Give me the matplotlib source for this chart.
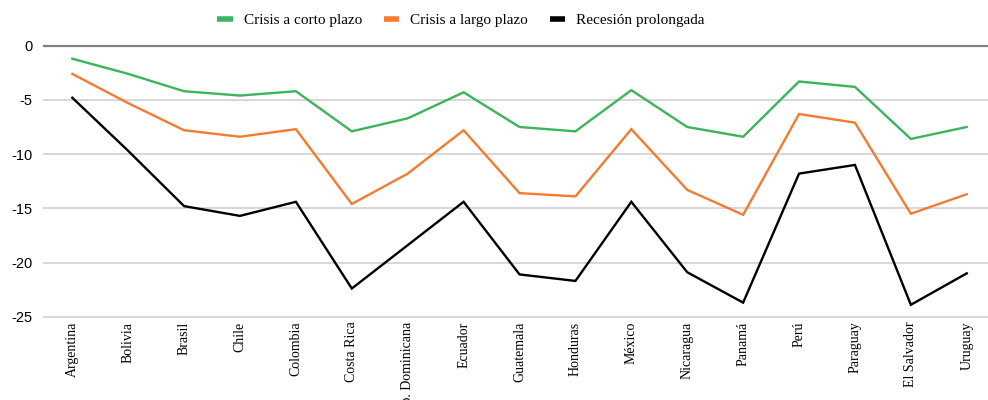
import matplotlib
matplotlib.use("Agg")
import matplotlib.pyplot as plt
from matplotlib.lines import Line2D

countries = ["Argentina", "Bolivia", "Brasil", "Chile", "Colombia", "Costa Rica",
             "Rep. Dominicana", "Ecuador", "Guatemala", "Honduras", "México",
             "Nicaragua", "Panamá", "Perú", "Paraguay", "El Salvador", "Uruguay"]
corto = [-1.2, -2.6, -4.2, -4.6, -4.2, -7.9, -6.7, -4.3, -7.5, -7.9, -4.1,
         -7.5, -8.4, -3.3, -3.8, -8.6, -7.5]
largo = [-2.6, -5.3, -7.8, -8.4, -7.7, -14.6, -11.8, -7.8, -13.6, -13.9, -7.7,
         -13.3, -15.6, -6.3, -7.1, -15.5, -13.7]
recesion = [-4.8, -9.7, -14.8, -15.7, -14.4, -22.4, -18.4, -14.4, -21.1, -21.7, -14.4,
            -20.9, -23.7, -11.8, -11.0, -23.9, -21.0]
yticks = [0, -5, -10, -15, -20, -25]

series = [("Crisis a corto plazo", corto, "#3BB55B"),
          ("Crisis a largo plazo", largo, "#F47B2F"),
          ("Recesión prolongada", recesion, "#000000")]

fig = plt.figure(figsize=(9.88, 4.0), dpi=100)
ax = fig.add_axes([43.5 / 988, 1 - 316.7 / 400, 1 - 43.5 / 988, (316.7 - 45.7) / 400])

x = list(range(len(countries)))
for name, vals, col in series:
    ax.plot(x, vals, color=col, lw=1.7, solid_joinstyle="miter", zorder=3)

ax.set_ylim(-25, 0)
ax.set_xlim(-0.515, 16.38)
ax.set_yticks(yticks)
ax.set_yticklabels([str(v) for v in yticks], fontfamily="Liberation Sans", fontsize=10.5)
for v in yticks:
    if v == 0:
        ax.axhline(v, color="#808080", lw=1.6, zorder=2, clip_on=False)
    else:
        ax.axhline(v, color="#D4D4D4", lw=1.3, zorder=1, clip_on=False)

ax.set_xticks(x)
ax.set_xticklabels(countries, rotation=90, fontfamily="Liberation Serif", fontsize=10,
                   va="top", ha="center")
ax.tick_params(axis="both", length=0)
ax.tick_params(axis="y", pad=8)
ax.tick_params(axis="x", pad=3.5)
for s in ax.spines.values():
    s.set_visible(False)

handles = [Line2D([0], [0], color=col, lw=4, solid_capstyle="butt") for _, _, col in series]
fig.legend(handles, [n for n, _, _ in series], loc="center", bbox_to_anchor=(461 / 988, 1 - 20 / 400),
           ncol=3, frameon=False, prop={"family": "Liberation Serif", "size": 11},
           handlelength=1.0, handletextpad=0.75, columnspacing=1.4)

fig.savefig("out.png", dpi=100)
